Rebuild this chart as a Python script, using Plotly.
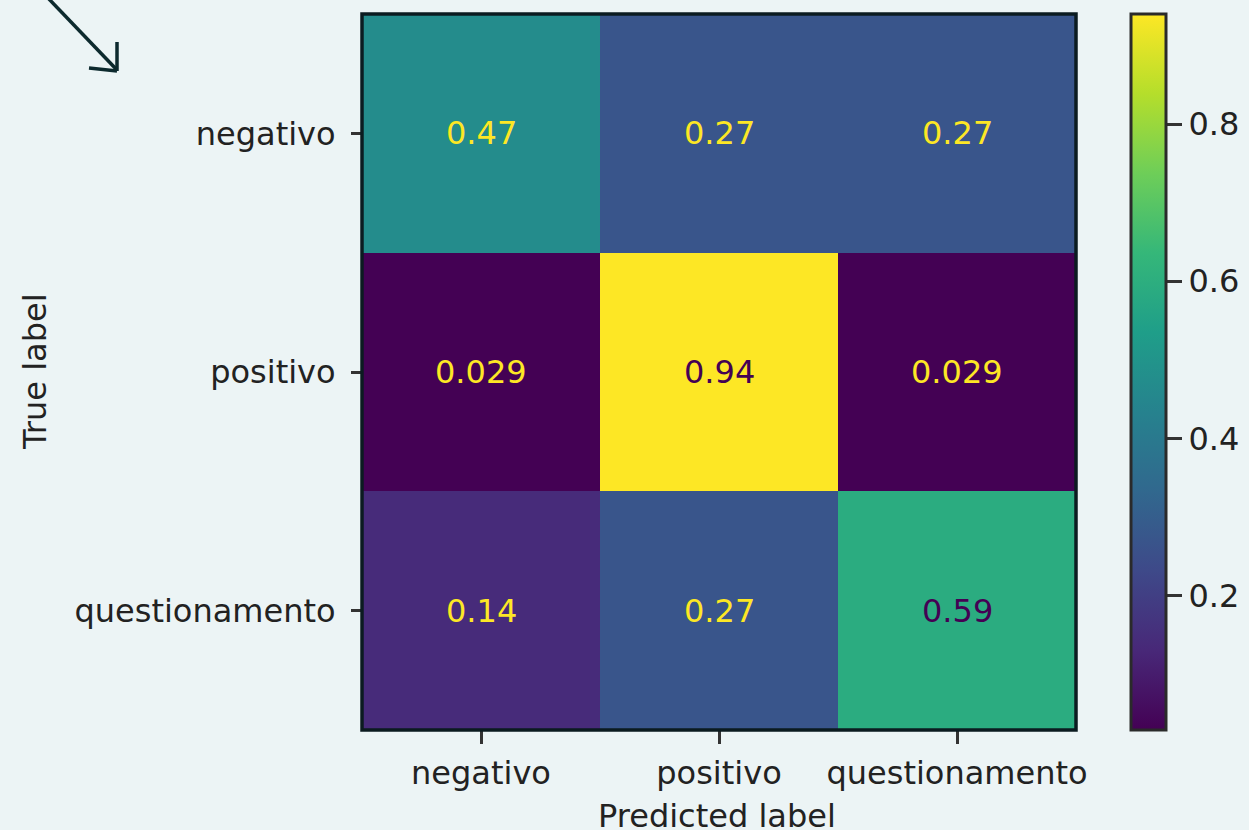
import plotly.graph_objects as go

labels = ["negativo", "positivo", "questionamento"]
z = [
    [0.47, 0.27, 0.27],
    [0.029, 0.94, 0.029],
    [0.14, 0.27, 0.59],
]
cell_text = [
    ["0.47", "0.27", "0.27"],
    ["0.029", "0.94", "0.029"],
    ["0.14", "0.27", "0.59"],
]
cbar_ticks = [0.2, 0.4, 0.6, 0.8]
cbar_ticktext = ["0.2", "0.4", "0.6", "0.8"]

W, H = 1249, 830
L, R, T, B = 362, 1076, 14, 730
BG = "#ECF4F5"
DARK = "#0B1B20"
FONT = "DejaVu Sans"
FS = 32

zmin = min(min(r) for r in z)
zmax = max(max(r) for r in z)
thresh = (zmin + zmax) / 2

def px(xp, yp):
    return (xp - L) / (R - L), (B - yp) / (B - T)

fig = go.Figure(go.Heatmap(
    z=z, x=labels, y=labels,
    colorscale="Viridis", zmin=zmin, zmax=zmax,
    hoverinfo="skip",
    colorbar=dict(
        x=(1131 - L) / (R - L), xanchor="left", xpad=0,
        y=0.5, yanchor="middle", len=1.0, lenmode="fraction", ypad=0,
        thickness=35, thicknessmode="pixels",
        outlinewidth=3, outlinecolor="#2a2a2a",
        tickvals=cbar_ticks, ticktext=cbar_ticktext,
        ticks="outside", ticklen=15, tickwidth=3, tickcolor="#333333",
        tickfont=dict(family=FONT, size=FS, color="#222222"),
    ),
))

annotations = []
for i, row in enumerate(z):
    for j, v in enumerate(row):
        annotations.append(dict(
            x=labels[j], y=labels[i], text=cell_text[i][j], showarrow=False,
            font=dict(family=FONT, size=FS,
                      color="#440154" if v > thresh else "#FDE725"),
        ))

xa, ya = px(717, 816)
annotations.append(dict(x=xa, y=ya, xref="paper", yref="paper", text="Predicted label",
                        showarrow=False, xanchor="center", yanchor="middle",
                        font=dict(family=FONT, size=FS, color="#222222")))
xa, ya = px(35, 372)
annotations.append(dict(x=xa, y=ya, xref="paper", yref="paper", text="True label",
                        showarrow=False, xanchor="center", yanchor="middle", textangle=-90,
                        font=dict(family=FONT, size=FS, color="#222222")))

shapes = []
arrow_segments = [((48, -2), (117, 70)), ((117, 42), (117, 71)), ((89, 68), (117, 71))]
for (x0, y0), (x1, y1) in arrow_segments:
    a0, b0 = px(x0, y0)
    a1, b1 = px(x1, y1)
    shapes.append(dict(type="line", xref="paper", yref="paper", x0=a0, y0=b0, x1=a1, y1=b1,
                       line=dict(color="#0D2A2E", width=3.5)))

shapes.append(dict(type="rect", xref="paper", yref="paper", x0=0, y0=0, x1=1, y1=1,
                   line=dict(color=DARK, width=3.5), layer="above"))

fig.update_layout(
    width=W, height=H,
    margin=dict(l=L, r=W - R, t=T, b=H - B, pad=0, autoexpand=False),
    paper_bgcolor=BG, plot_bgcolor=BG,
    annotations=annotations, shapes=shapes,
    xaxis=dict(tickfont=dict(family=FONT, size=FS, color="#222222"),
               ticks="outside", ticklen=13, tickwidth=3, tickcolor="#333333",
               ticklabelstandoff=2, automargin=False,
               showgrid=False, zeroline=False, fixedrange=True),
    yaxis=dict(tickfont=dict(family=FONT, size=FS, color="#222222"),
               ticks="outside", ticklen=10, tickwidth=3, tickcolor="#333333",
               ticklabelstandoff=9, automargin=False,
               autorange="reversed", showgrid=False, zeroline=False, fixedrange=True),
)

fig.write_html(
    "out.html",
    config={"displayModeBar": False},
    post_script="document.body.style.margin='0';document.body.style.background='%s';" % BG,
)
